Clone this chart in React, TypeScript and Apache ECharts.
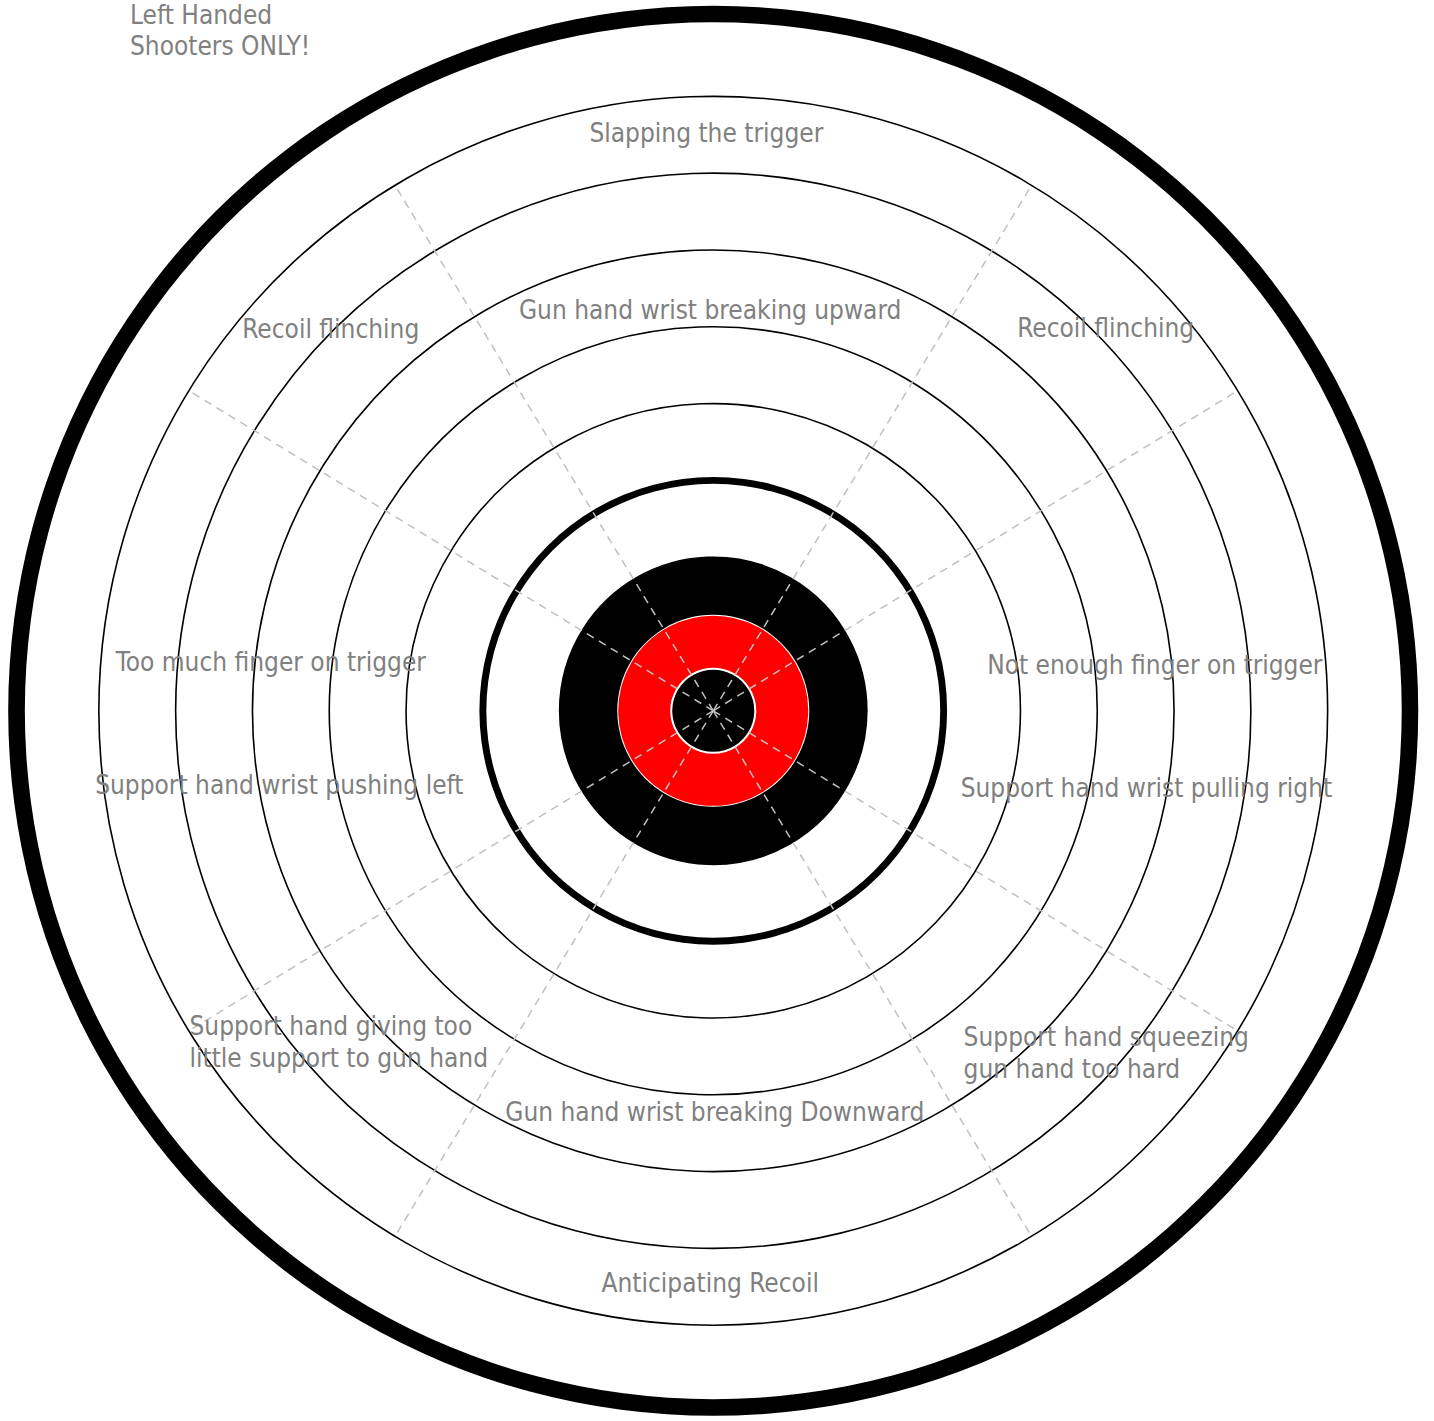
import React, { useEffect, useRef } from "react";
import * as echarts from "echarts";

// ---- target geometry, in ring units (1 unit = spacing between scoring rings)
const zoneEdges = [0, 0.547, 1.25, 2, 2.955, 3.045, 8.964, 9.18];
const zoneColors = ["#000000", "#ff0000", "#000000", "rgba(0,0,0,0)", "#000000", "rgba(0,0,0,0)", "#000000"];
const ringMax = 9; // thin ring lines every unit up to here
const spokeReach = 8; // dashed spokes reach the 8th ring
// spoke directions, degrees clockwise from 12 o'clock
const spokeAngles = [31.2, 58.6, 121.4, 148.8, 211.2, 238.6, 301.4, 328.8];

// ---- labels (centered), positions in ring units (x right, y up)
const centerLabels = [
  "Slapping the trigger",
  "Gun hand wrist breaking upward",
  "Recoil flinching",
  "Recoil flinching",
  "Too much finger on trigger",
  "Not enough finger on trigger",
  "Support hand wrist pushing left",
  "Support hand wrist pulling right",
  "Gun hand wrist breaking Downward",
  "Anticipating Recoil",
];
const centerX = [-0.09, -0.04, -4.98, 5.11, -5.76, 5.75, -5.65, 5.64, 0.02, -0.04];
const centerY = [7.52, 5.22, 4.97, 4.99, 0.64, 0.59, -0.97, -1.0, -5.22, -7.45];

// ---- labels (left aligned, two lines)
const leftLabels = [
  "Support hand giving too\nlittle support to gun hand",
  "Support hand squeezing\ngun hand too hard",
];
const leftX = [-6.82, 3.26];
const leftY = [-4.31, -4.46];

const titleLines = ["Left Handed", "Shooters ONLY!"];

const W = 1434;
const H = 1421;
const CX = 713.25;
const CY = 710.8;
const U = 76.8;

const FONT = "'DejaVu Sans Condensed', 'DejaVu Sans', sans-serif";
const FS = 26;
const GRAY = "#808080";

export default function App() {
  const ref = useRef<HTMLDivElement>(null);
  useEffect(() => {
    if (!ref.current) return;
    const chart = echarts.init(ref.current, undefined, { renderer: "svg" });

    const zoneSeries = zoneColors.map((c, i) => ({
      type: "bar",
      coordinateSystem: "polar",
      polarIndex: 0,
      stack: "zones",
      barCategoryGap: "0%",
      clip: false,
      silent: true,
      z: 2,
      data: [zoneEdges[i + 1] - zoneEdges[i]],
      itemStyle:
        c === "#ff0000"
          ? { color: c, borderColor: "#ffffff", borderWidth: 2 }
          : { color: c },
    }));

    const spokeSeries = spokeAngles.map((a) => ({
      type: "line",
      coordinateSystem: "polar",
      polarIndex: 1,
      symbol: "none",
      silent: true,
      clip: false,
      z: 3,
      data: [
        [0, a],
        [spokeReach, a],
      ],
      lineStyle: { color: "#c0c0c0", width: 1.5, type: [8, 6] },
    }));

    const labelStyle = {
      show: true,
      position: "inside",
      formatter: (p: any) => p.name,
      fontFamily: FONT,
      fontSize: FS,
      color: GRAY,
      opacity: 1,
      textBorderWidth: 0,
      textBorderColor: "transparent",
      verticalAlign: "middle",
    };

    const option: any = {
      animation: false,
      title: {
        text: titleLines.join("\n"),
        left: 130,
        top: -1,
        padding: 0,
        textStyle: {
          fontFamily: FONT,
          fontSize: FS,
          fontWeight: "normal",
          color: GRAY,
          lineHeight: 31,
        },
      },
      polar: [
        { center: [CX, CY], radius: ringMax * U },
        { center: [CX, CY], radius: spokeReach * U },
      ],
      angleAxis: [
        {
          polarIndex: 0,
          type: "category",
          data: ["target"],
          axisLine: { show: false },
          axisTick: { show: false },
          axisLabel: { show: false },
          splitLine: { show: false },
        },
        {
          polarIndex: 1,
          type: "value",
          min: 0,
          max: 360,
          interval: 30,
          startAngle: 90,
          clockwise: true,
          show: false,
        },
      ],
      radiusAxis: [
        {
          polarIndex: 0,
          type: "value",
          min: 0,
          max: ringMax,
          interval: 1,
          axisLine: { show: false },
          axisTick: { show: false },
          axisLabel: { show: false },
          splitLine: { show: true, lineStyle: { color: "#000000", width: 1.6 } },
        },
        {
          polarIndex: 1,
          type: "value",
          min: 0,
          max: spokeReach,
          show: false,
        },
      ],
      grid: {
        left: CX - ringMax * U,
        top: CY - ringMax * U,
        width: 2 * ringMax * U,
        height: 2 * ringMax * U,
      },
      xAxis: { type: "value", min: -ringMax, max: ringMax, show: false },
      yAxis: { type: "value", min: -ringMax, max: ringMax, show: false },
      series: [
        ...zoneSeries,
        ...spokeSeries,
        {
          type: "scatter",
          xAxisIndex: 0,
          yAxisIndex: 0,
          symbolSize: 0,
          clip: false,
          silent: true,
          z: 5,
          itemStyle: { opacity: 1 },
          data: centerLabels.map((t, i) => ({ name: t, value: [centerX[i], centerY[i]] })),
          label: { ...labelStyle, align: "center" },
        },
        {
          type: "scatter",
          xAxisIndex: 0,
          yAxisIndex: 0,
          symbolSize: 0,
          clip: false,
          silent: true,
          z: 5,
          itemStyle: { opacity: 1 },
          data: leftLabels.map((t, i) => ({ name: t, value: [leftX[i], leftY[i]] })),
          label: { ...labelStyle, align: "left", lineHeight: 32 },
        },
      ],
    };

    chart.setOption(option);
    return () => chart.dispose();
  }, []);

  return (
    <div
      ref={ref}
      style={{ position: "absolute", left: 0, top: 0, width: W, height: H }}
    />
  );
}
